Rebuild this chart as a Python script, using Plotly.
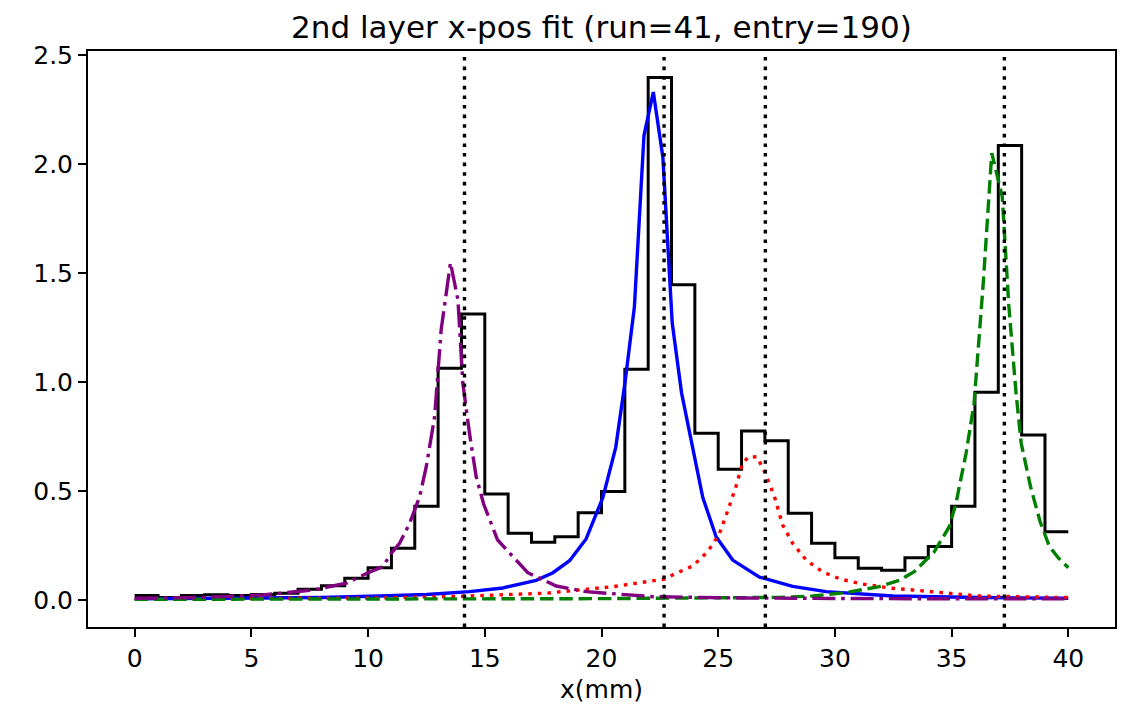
import plotly.graph_objects as go

# histogram of the 2nd layer x positions (1 mm bins, 0..40 mm)
bin_edges = list(range(0, 41))
bin_values = [0.02, 0.011, 0.02, 0.024, 0.02, 0.025, 0.031, 0.049, 0.065, 0.10,
              0.148, 0.237, 0.43, 1.063, 1.312, 0.486, 0.306, 0.265, 0.29, 0.40,
              0.497, 1.058, 2.397, 1.446, 0.765, 0.60, 0.775, 0.73, 0.398, 0.26,
              0.194, 0.145, 0.136, 0.194, 0.245, 0.43, 0.953, 2.084, 0.757, 0.313]

# fitted peak components
purple_x = [0, 2.64, 5.49, 7.64, 9.07, 10.06, 10.63, 10.99, 11.35, 11.78, 12.21, 12.49,
            12.85, 13.13, 13.53, 13.85, 14.06, 14.35, 14.63, 14.95, 15.55, 16.84, 18.06,
            19.34, 22.2, 26.0, 32.0, 40.0]
purple_y = [0.008, 0.011, 0.023, 0.046, 0.077, 0.128, 0.153, 0.214, 0.26, 0.352, 0.474, 0.61,
            0.84, 1.239, 1.547, 1.376, 0.994, 0.76, 0.566, 0.44, 0.275, 0.125, 0.064,
            0.038, 0.015, 0.009, 0.006, 0.005]

blue_x = [0, 4, 8, 10.5, 12.5, 14.35, 15.77, 17.2, 17.92, 18.63, 19.34, 20.06, 20.61, 21.01,
          21.41, 21.82, 22.22, 22.63, 23.03, 23.43, 23.91, 24.34, 24.91, 25.62, 26.77, 27.62,
          28.19, 29.62, 30.48, 32.48, 36.19, 40]
blue_y = [0.005, 0.007, 0.011, 0.018, 0.025, 0.038, 0.055, 0.09, 0.125, 0.18, 0.28, 0.47, 0.70, 1.0,
          1.345, 2.13, 2.33, 2.03, 1.27, 0.95, 0.70, 0.47, 0.29, 0.183, 0.105, 0.08,
          0.062, 0.038, 0.032, 0.018, 0.011, 0.008]

red_x = [0, 5, 10.49, 14, 17.63, 20.49, 22.7, 23.13, 23.91, 24.55, 25.05, 25.48, 25.77, 26.0,
         26.26, 26.67, 27.05, 27.41, 27.62, 27.76, 28.19, 28.48, 28.77, 29.48, 30.26, 31.19,
         32.41, 33.33, 36.19, 40]
red_y = [0.005, 0.006, 0.009, 0.017, 0.031, 0.061, 0.096, 0.119, 0.156, 0.222, 0.303, 0.431, 0.523, 0.612,
         0.655, 0.657, 0.573, 0.474, 0.40, 0.344, 0.26, 0.222, 0.183, 0.128, 0.095, 0.073,
         0.054, 0.046, 0.018, 0.011]

green_x = [0, 10, 20, 25, 27.62, 29.05, 30.48, 31.9, 32.76, 33.4, 34.25, 34.9, 35.19, 35.33,
           35.62, 35.96, 36.36, 36.72, 37.17, 37.45, 37.76, 37.98, 38.38, 38.79, 39.19, 39.6, 40]
green_y = [0.003, 0.004, 0.006, 0.01, 0.012, 0.018, 0.034, 0.061, 0.09, 0.13, 0.22, 0.336, 0.444, 0.52,
           0.673, 0.9, 1.46, 2.05, 1.85, 1.35, 0.95, 0.72, 0.52, 0.36, 0.245, 0.19, 0.148]

# fitted peak centres
centres = [14.13, 22.68, 27.02, 37.26]

title = "2nd layer x-pos fit (run=41, entry=190)"
font = "DejaVu Sans, Verdana, sans-serif"

fig = go.Figure()

fig.add_trace(go.Scatter(x=bin_edges, y=bin_values + [bin_values[-1]], mode="lines",
                         line=dict(color="black", width=3, shape="hv")))

lw = 3.4
fig.add_trace(go.Scatter(x=blue_x, y=blue_y, mode="lines",
                         line=dict(color="#0000ff", width=lw)))
fig.add_trace(go.Scatter(x=red_x, y=red_y, mode="lines",
                         line=dict(color="#ff0000", width=lw, dash="3.6px,6px")))
fig.add_trace(go.Scatter(x=green_x, y=green_y, mode="lines",
                         line=dict(color="#008000", width=lw, dash="13.5px,5.8px")))
fig.add_trace(go.Scatter(x=purple_x, y=purple_y, mode="lines",
                         line=dict(color="#800080", width=lw, dash="23px,5.8px,3.6px,5.8px")))

for c in centres:
    fig.add_vline(x=c, line=dict(color="black", width=3.4, dash="3.6px,6px"), layer="above")

axis_style = dict(showline=True, mirror=True, linecolor="black", linewidth=2,
                  ticks="outside", ticklen=8, tickwidth=2, tickcolor="black",
                  showgrid=False, zeroline=False, automargin=False,
                  tickfont=dict(family=font, size=25, color="black"))

fig.update_xaxes(range=[-2, 42], tickvals=[0, 5, 10, 15, 20, 25, 30, 35, 40], **axis_style)
fig.update_yaxes(range=[-0.124, 2.518], tickvals=[0, 0.5, 1.0, 1.5, 2.0, 2.5], tickformat=".1f",
                 **axis_style)

fig.update_layout(
    width=1121, height=707,
    margin=dict(l=88, r=6, t=51, b=80),
    paper_bgcolor="white", plot_bgcolor="white",
    showlegend=False,
    title=dict(text=title, x=0.5365, xanchor="center", y=1 - 27 / 707, yanchor="middle",
               font=dict(family=font, size=31, color="black")),
    annotations=[dict(text="x(mm)", xref="paper", yref="paper", x=0.5, y=-0.109,
                      xanchor="center", yanchor="middle", showarrow=False,
                      font=dict(family=font, size=25, color="black"))],
)

# drop the browser's default body margin so the figure sits at the page corner
fig.write_html("out.html", config={"displayModeBar": False},
               post_script="document.body.style.margin='0';")
